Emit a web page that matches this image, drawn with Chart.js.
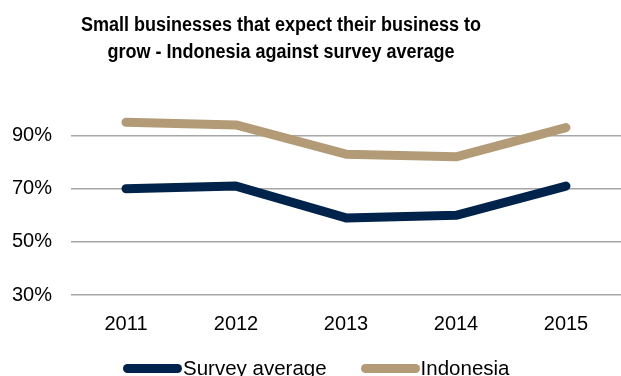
<!DOCTYPE html>
<html>
<head>
<meta charset="utf-8">
<script src="https://cdn.jsdelivr.net/npm/chart.js@4.4.1/dist/chart.umd.min.js"></script>
<style>
  html, body { margin: 0; padding: 0; background: #fff; overflow: hidden; }
  #wrap { position: relative; width: 621px; height: 376px; overflow: hidden; }
  #titulo {
    position: absolute; left: 31px; top: 11px; width: 500px;
    text-align: center; font: bold 20px "Liberation Sans", Arial, sans-serif;
    line-height: 27px; color: #000;
    transform: scaleX(0.9); transform-origin: 250px 0;
  }
  #lienzo { position: absolute; left: 0; top: 0; }
  #leyenda {
    position: absolute; left: 123px; top: 356px; display: flex; align-items: center;
    font: 20.5px "Liberation Sans", Arial, sans-serif; line-height: 24px; color: #000;
    white-space: nowrap;
  }
  #leyenda .item { display: flex; align-items: center; margin-right: 34px; }
  #leyenda .marca { width: 59px; height: 9px; border-radius: 4.5px; margin-right: 1px; }
</style>
</head>
<body>
<div id="wrap">
  <canvas id="lienzo" width="621" height="376"></canvas>
  <div id="titulo">Small businesses that expect their business to<br>grow - Indonesia against survey average</div>
  <div id="leyenda"></div>
</div>
<script>
// datos
const anios = ['2011', '2012', '2013', '2014', '2015'];
const promedio = [70, 71, 59, 60, 71];
const indonesia = [95, 94, 83, 82, 93];
const marcas = [30, 50, 70, 90];

const azul = '#00234b';
const arena = '#b29b76';
const fuente = '"Liberation Sans", Arial, sans-serif';

const serie = (label, data, color) => ({
    label: label,
    data: data,
    borderColor: color,
    backgroundColor: color,
    borderWidth: 9,
    borderCapStyle: 'round',
    borderJoinStyle: 'round',
    pointRadius: 0,
    tension: 0,
    clip: false
});

// leyenda en HTML a partir de los items que genera Chart.js
const leyendaHtml = {
    id: 'leyendaHtml',
    afterUpdate(chart) {
        const cont = document.getElementById('leyenda');
        cont.innerHTML = '';
        const items = chart.options.plugins.legend.labels.generateLabels(chart);
        items.forEach(it => {
            const div = document.createElement('div');
            div.className = 'item';
            const marca = document.createElement('span');
            marca.className = 'marca';
            marca.style.background = it.strokeStyle;
            const txt = document.createElement('span');
            txt.textContent = it.text;
            div.appendChild(marca);
            div.appendChild(txt);
            cont.appendChild(div);
        });
    }
};

new Chart(document.getElementById('lienzo').getContext('2d'), {
    type: 'line',
    data: {
        labels: anios,
        datasets: [serie('Survey average', promedio, azul), serie('Indonesia', indonesia, arena)]
    },
    plugins: [leyendaHtml],
    options: {
        responsive: false,
        animation: false,
        layout: { padding: { top: 109, left: 10, right: 0, bottom: 23 } },
        scales: {
            x: {
                offset: true,
                grid: { display: false, drawTicks: false },
                border: { display: false },
                ticks: { color: '#000', font: { family: fuente, size: 20 }, padding: 17 }
            },
            y: {
                min: 30,
                max: 100,
                afterBuildTicks: (eje) => { eje.ticks = marcas.map(v => ({ value: v })); },
                afterFit: (eje) => { eje.width = 61; },
                grid: { color: '#a6a6a6', lineWidth: 1.5, drawTicks: false },
                border: { display: false },
                ticks: { color: '#000', font: { family: fuente, size: 20 }, padding: 19,
                         callback: (v) => v + '%' }
            }
        },
        plugins: {
            title: { display: false },
            tooltip: { enabled: false },
            legend: { display: false }
        }
    }
});
</script>
</body>
</html>
